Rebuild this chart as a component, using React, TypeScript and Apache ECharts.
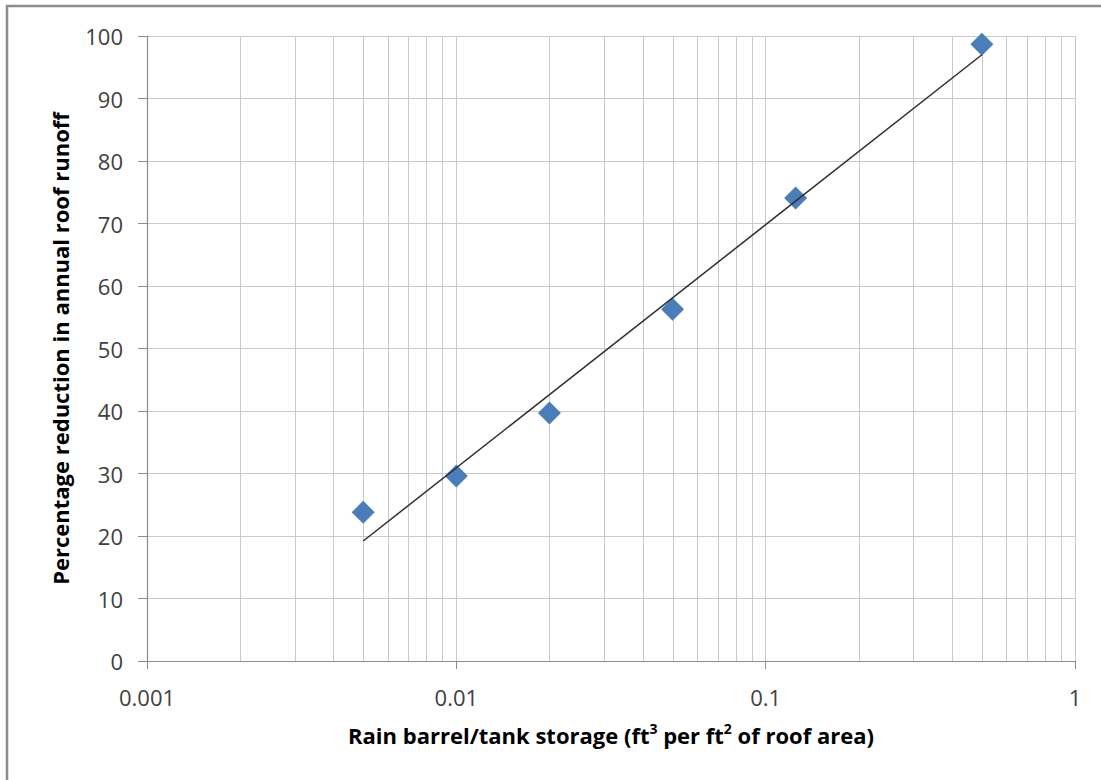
import React, { useEffect, useRef } from "react";
import * as echarts from "echarts";

const storageX = [0.005, 0.01, 0.02, 0.05, 0.125, 0.5];
const reductionY = [23.8, 29.6, 39.7, 56.3, 74.1, 98.7];
const trendX = [0.005, 0.5];
const trendY = [19.2, 97.0];
const majorTicks = [0.001, 0.01, 0.1, 1];
const minorTicks = [
  0.002, 0.003, 0.004, 0.005, 0.006, 0.007, 0.008, 0.009,
  0.02, 0.03, 0.04, 0.05, 0.06, 0.07, 0.08, 0.09,
  0.2, 0.3, 0.4, 0.5, 0.6, 0.7, 0.8, 0.9,
];
const yTicks = [0, 10, 20, 30, 40, 50, 60, 70, 80, 90, 100];

const FONT = "Open Sans";
const GRID = "#c9c9c9";
const AXIS = "#8c8c8c";

export default function App() {
  const ref = useRef<HTMLDivElement>(null);
  useEffect(() => {
    if (!ref.current) return;
    const chart = echarts.init(ref.current, null, { renderer: "svg" });
    const yMin = yTicks[0];
    const yMax = yTicks[yTicks.length - 1];
    chart.setOption({
      animation: false,
      backgroundColor: "#ffffff",
      textStyle: { fontFamily: FONT },
      grid: { left: 147, top: 36, right: 26, bottom: 119, containLabel: false },
      graphic: [
        {
          type: "polyline",
          shape: { points: [[7, 780], [7, 6], [1101, 6]] },
          style: { stroke: "#8c8c8c", lineWidth: 2.5, fill: "none" },
          silent: true,
        },
      ],
      xAxis: {
        type: "log",
        logBase: 10,
        min: majorTicks[0],
        max: majorTicks[majorTicks.length - 1],
        axisLine: { show: true, lineStyle: { color: AXIS, width: 1.2 } },
        axisTick: { show: true, inside: false, length: 8, lineStyle: { color: AXIS } },
        axisLabel: {
          margin: 25,
          fontSize: 22,
          color: "#404040",
          fontFamily: FONT,
          formatter: (v: number) => {
            const m = majorTicks.find((t) => Math.abs(Math.log10(t) - Math.log10(v)) < 1e-6);
            return m !== undefined ? String(m) : "";
          },
        },
        splitLine: { show: true, lineStyle: { color: GRID, width: 1 } },
        name: "Rain barrel/tank storage (ft{sup|3} per ft{sup|2} of roof area)",
        nameLocation: "middle",
        nameGap: 60,
        nameTextStyle: {
          fontSize: 22,
          fontWeight: "bold",
          color: "#000000",
          fontFamily: FONT,
          lineHeight: 28,
          rich: {
            sup: {
              fontSize: 14,
              fontWeight: "bold",
              color: "#000000",
              fontFamily: FONT,
              verticalAlign: "top",
              lineHeight: 16,
            },
          },
        },
      },
      yAxis: {
        type: "value",
        min: yMin,
        max: yMax,
        interval: 10,
        axisLine: { show: true, lineStyle: { color: AXIS, width: 1.2 } },
        axisTick: { show: true, inside: false, length: 9, lineStyle: { color: AXIS } },
        axisLabel: { margin: 24, fontSize: 22, color: "#404040", fontFamily: FONT },
        splitLine: { show: true, lineStyle: { color: GRID, width: 1 } },
        name: "Percentage reduction in annual roof runoff",
        nameLocation: "middle",
        nameGap: 76,
        nameRotate: 90,
        nameTextStyle: { fontSize: 22, fontWeight: "bold", color: "#000000", fontFamily: FONT },
      },
      series: [
        {
          type: "custom",
          silent: true,
          z: 1,
          data: minorTicks.map((v) => [v]),
          renderItem: (params: any, api: any) => {
            const x = api.value(0);
            const p0 = api.coord([x, yMin]);
            const p1 = api.coord([x, yMax]);
            return {
              type: "line",
              shape: { x1: Math.round(p0[0]) + 0.5, y1: p0[1], x2: Math.round(p1[0]) + 0.5, y2: p1[1] },
              style: { stroke: GRID, lineWidth: 1 },
            };
          },
          encode: { x: 0 },
        },
        {
          type: "scatter",
          data: storageX.map((x, i) => [x, reductionY[i]]),
          symbol: "diamond",
          symbolSize: 23,
          itemStyle: { color: "#4a7ebb", opacity: 1 },
          z: 3,
        },
        {
          type: "line",
          data: trendX.map((x, i) => [x, trendY[i]]),
          symbol: "none",
          lineStyle: { color: "#2e2e2e", width: 1.5 },
          z: 4,
        },
      ],
    });
    return () => chart.dispose();
  }, []);
  return (
    <div
      ref={ref}
      style={{ position: "fixed", left: 0, top: 0, width: 1101, height: 780, background: "#fff" }}
    />
  );
}
